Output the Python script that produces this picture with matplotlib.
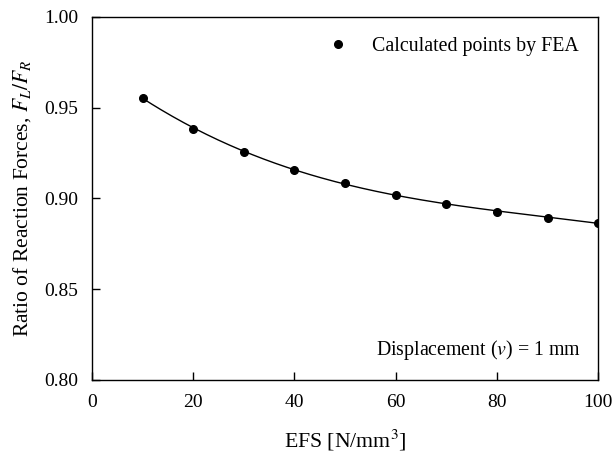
import matplotlib
matplotlib.use("Agg")
import matplotlib.pyplot as plt
import numpy as np

plt.rcParams['font.family'] = ['Liberation Serif', 'DejaVu Serif']
plt.rcParams['mathtext.fontset'] = 'stix'

efs = [10, 20, 30, 40, 50, 60, 70, 80, 90, 100]
ratio = [0.9555, 0.9385, 0.9258, 0.9158, 0.9083, 0.9020, 0.8970, 0.8928, 0.8895, 0.8865]

fig = plt.figure(figsize=(6.13, 4.57), dpi=100)
ax = fig.add_axes([0.150, 0.1685, 0.826, 0.7945])

coef = np.polyfit(efs, ratio, 3)
xs = np.linspace(min(efs), max(efs), 200)
ax.plot(xs, np.polyval(coef, xs), color='black', lw=1.0)
ax.plot(efs, ratio, 'o', color='black', markersize=5.5, label='Calculated points by FEA')

ax.set_xlim(0, 100)
ax.set_ylim(0.80, 1.00)
ax.set_xticks([0, 20, 40, 60, 80, 100])
ax.set_yticks([0.80, 0.85, 0.90, 0.95, 1.00])
ax.set_yticklabels(['0.80', '0.85', '0.90', '0.95', '1.00'])
ax.tick_params(direction='in', length=6, width=1, labelsize=14, pad=10)
for s in ax.spines.values():
    s.set_linewidth(1.0)

ax.set_xlabel('EFS [N/mm$^3$]', fontsize=15.7, labelpad=12)
ax.set_ylabel('Ratio of Reaction Forces, $F_L/F_R$', fontsize=15.5, labelpad=8)

leg = ax.legend(loc='upper right', frameon=False, fontsize=14.3, handletextpad=0.95,
                borderaxespad=0.6, handlelength=1.5)
ax.text(0.966, 0.083, 'Displacement ($v$) = 1 mm', transform=ax.transAxes,
        ha='right', va='center', fontsize=14.3)

fig.savefig('out.png', dpi=100)
